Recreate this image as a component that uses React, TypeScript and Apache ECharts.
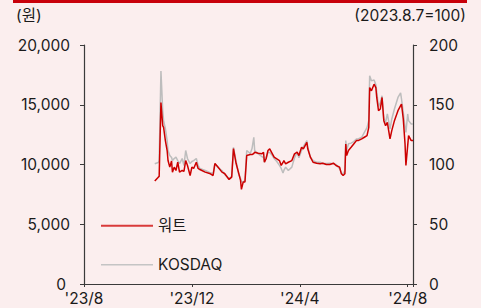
import React, { useEffect, useRef } from "react";
import * as echarts from "echarts";

const dates = [
  "2023-10-20","2023-10-24","2023-10-25","2023-10-27","2023-10-29","2023-10-30","2023-11-01","2023-11-03","2023-11-04","2023-11-06",
  "2023-11-08","2023-11-09","2023-11-11","2023-11-13","2023-11-15","2023-11-17","2023-11-20","2023-11-22","2023-11-24","2023-11-26",
  "2023-11-29","2023-12-01","2023-12-03","2023-12-06","2023-12-08","2023-12-10","2023-12-16","2023-12-21","2023-12-25","2023-12-27",
  "2023-12-30","2024-01-04","2024-01-07","2024-01-12","2024-01-15","2024-01-17","2024-01-20","2024-01-23","2024-01-25","2024-01-26",
  "2024-01-28","2024-01-30","2024-02-01","2024-02-05","2024-02-07","2024-02-09","2024-02-10","2024-02-14","2024-02-18","2024-02-20",
  "2024-02-21","2024-02-23","2024-02-25","2024-02-27","2024-03-01","2024-03-03","2024-03-06","2024-03-09","2024-03-11","2024-03-13",
  "2024-03-14","2024-03-16","2024-03-19","2024-03-23","2024-03-26","2024-03-29","2024-03-31","2024-04-03","2024-04-05","2024-04-09",
  "2024-04-10","2024-04-13","2024-04-16","2024-04-20","2024-04-24","2024-04-27","2024-05-01","2024-05-05","2024-05-09","2024-05-12",
  "2024-05-16","2024-05-18","2024-05-20","2024-05-22","2024-05-23","2024-05-24","2024-05-26","2024-05-29","2024-06-01","2024-06-04",
  "2024-06-06","2024-06-10","2024-06-13","2024-06-16","2024-06-18","2024-06-19","2024-06-21","2024-06-24","2024-06-26","2024-06-27",
  "2024-06-29","2024-07-01","2024-07-03","2024-07-05","2024-07-07","2024-07-09","2024-07-12","2024-07-14","2024-07-17","2024-07-21",
  "2024-07-24","2024-07-25","2024-07-27","2024-07-29","2024-07-30","2024-08-01","2024-08-02","2024-08-05","2024-08-07",
];

const wurtPrice = [
  8610, 8940, 9000, 15190, 13250, 13110, 12000, 11170, 10330, 9780,
  10290, 9360, 9780, 9500, 10190, 9360, 9500, 9420, 10330, 9920,
  9080, 9780, 9670, 10190, 9670, 9580, 9360, 9250, 9080, 10080,
  9830, 9360, 9250, 8750, 8940, 11330, 10080, 9250, 8670, 7920,
  8530, 8530, 10750, 10830, 10830, 10920, 11030, 10940, 10890, 11030,
  10190, 10500, 11170, 11310, 10890, 10610, 10470, 10330, 9920, 10170,
  10330, 10060, 10190, 10330, 10890, 11030, 10750, 11440, 11310, 11860,
  11310, 10610, 10190, 10110, 10060, 10110, 10000, 10000, 10110, 9920,
  9780, 9220, 9080, 9220, 11720, 10750, 11170, 11440, 11720, 12000,
  12000, 12140, 12280, 12420, 13110, 16440, 16170, 16720, 16440, 15610,
  14500, 14640, 15610, 13670, 13250, 13530, 12140, 12830, 13670, 14500,
  14920, 15060, 13810, 11720, 9920, 11580, 12420, 12000, 12000,
];

const kosdaqIndex = [
  100.6, 101.7, 103.3, 178.3, 145, 136.7, 130, 120, 111.7, 107.5,
  105.8, 103.3, 105, 106.1, 103.3, 100.8, 105, 99.2, 111.7, 105,
  100.8, 102.5, 103.3, 105, 99.2, 96.7, 95, 93.3, 92.5, 100.8,
  97.8, 95, 91.7, 88.3, 90, 114.4, 102.5, 91.7, 88.3, 85.8,
  85.3, 86.7, 111.7, 109.2, 113.3, 122.8, 111.7, 108.9, 106.7, 105.8,
  101.9, 105.8, 110.3, 110, 107.5, 105, 102.5, 99.2, 96.7, 92.8,
  95, 97.8, 95, 97.8, 105.6, 110.3, 105.6, 111.7, 115, 120,
  114.4, 106.1, 103.3, 101.9, 101.9, 100.8, 100.8, 101.1, 100.6, 100,
  96.4, 93.3, 91.7, 95, 120, 111.7, 117.3, 117.9, 119.2, 121.4,
  121.4, 122.8, 126.9, 130.8, 136.7, 174.2, 170, 170.8, 166.7, 160.8,
  148.3, 151.9, 157.5, 138.1, 135.3, 142.3, 129.8, 138.1, 146.4, 156.1,
  160, 154.8, 143.6, 131.1, 126.9, 142.3, 136.7, 133.9, 133.9,
];

const xStartDate = "2023-08-01";
const xEndDate = "2024-08-07";
const xTickDates = ["2023-08-01", "2023-12-01", "2024-04-01", "2024-08-01"];
const xTickLabels = ["'23/8", "'23/12", "'24/4", "'24/8"];
const leftTicks = [0, 5000, 10000, 15000, 20000];
const rightTicks = [0, 50, 100, 150, 200];
const seriesNames = ["워트", "KOSDAQ"];
const leftUnit = "(원)";
const rightUnit = "(2023.8.7=100)";

const DAY = 86400000;
const dayOf = (d: string) => Math.round((Date.parse(d) - Date.parse(xStartDate)) / DAY);

const FONT = "Inter, 'Noto Sans CJK KR', sans-serif";
const TEXT = "#1a1a1a";
const AXIS = "#3a3a3a";
const RED = "#CC0000";
const GRAY = "#BDBDBD";

export default function App() {
  const ref = useRef<HTMLDivElement>(null);
  useEffect(() => {
    document.body.style.margin = "0";
    if (!ref.current) return;
    const chart = echarts.init(ref.current, null, { renderer: "svg" });
    const tickDays = xTickDates.map(dayOf);
    const labelMap: Record<number, string> = {};
    tickDays.forEach((d, i) => (labelMap[d] = xTickLabels[i]));
    const wurtData = dates.map((d, i) => [dayOf(d), wurtPrice[i]]);
    const kosdaqData = dates.map((d, i) => [dayOf(d), kosdaqIndex[i]]);

    const legendText = { fontSize: 15.5, color: TEXT, fontFamily: FONT };

    chart.setOption({
      animation: false,
      backgroundColor: "#FBEEEE",
      textStyle: { fontFamily: FONT },
      grid: { left: 84, right: 68, top: 45, bottom: 24 },
      graphic: [
        { type: "rect", left: 13, top: 0, shape: { width: 454, height: 3 }, style: { fill: "#C8000A" } },
        { type: "text", left: 16, top: 8, style: { text: leftUnit, font: `15.5px ${FONT}`, fill: TEXT } },
        { type: "text", right: 15, top: 8, style: { text: rightUnit, font: `15.5px ${FONT}`, fill: TEXT } },
      ],
      legend: [
        {
          data: [{ name: seriesNames[0], icon: "rect", itemStyle: { color: "#D93A3A" } }],
          left: 101, top: 218, padding: 0, itemWidth: 52, itemHeight: 2, itemGap: 6,
          textStyle: legendText,
        },
        {
          data: [{ name: seriesNames[1], icon: "rect", itemStyle: { color: "#C4C4C4" } }],
          left: 101, top: 257, padding: 0, itemWidth: 52, itemHeight: 1.5, itemGap: 6,
          textStyle: legendText,
        },
      ],
      xAxis: {
        type: "value",
        min: 0,
        max: dayOf(xEndDate),
        interval: tickDays[1] - tickDays[0],
        splitLine: { show: false },
        axisLine: { show: true, lineStyle: { color: AXIS, width: 1.2 } },
        axisTick: { show: true, length: 3, lineStyle: { color: AXIS } },
        axisLabel: {
          margin: 7,
          fontSize: 15.5,
          lineHeight: 14,
          color: TEXT,
          fontFamily: FONT,
          formatter: (v: number) => labelMap[v] ?? "",
        },
      },
      yAxis: [
        {
          type: "value",
          min: leftTicks[0],
          max: leftTicks[leftTicks.length - 1],
          interval: leftTicks[1] - leftTicks[0],
          splitLine: { show: false },
          axisLine: { show: true, lineStyle: { color: AXIS, width: 1.2 } },
          axisTick: { show: true, length: 4, lineStyle: { color: AXIS } },
          axisLabel: {
            margin: 14,
            fontSize: 15.5,
            lineHeight: 14,
            color: TEXT,
            fontFamily: FONT,
            formatter: (v: number) => (v === 0 ? "{z|0}" : v.toLocaleString("en-US")),
            rich: {
              z: { fontSize: 15.5, lineHeight: 14, color: TEXT, fontFamily: FONT, padding: [0, 4, 0, 0] },
            },
          },
        },
        {
          type: "value",
          position: "right",
          min: rightTicks[0],
          max: rightTicks[rightTicks.length - 1],
          interval: rightTicks[1] - rightTicks[0],
          splitLine: { show: false },
          axisLine: { show: true, lineStyle: { color: AXIS, width: 1.2 } },
          axisTick: { show: true, length: 4, lineStyle: { color: AXIS } },
          axisLabel: { margin: 16, fontSize: 15.5, lineHeight: 14, color: TEXT, fontFamily: FONT },
        },
      ],
      series: [
        {
          name: seriesNames[1],
          type: "line",
          yAxisIndex: 1,
          data: kosdaqData,
          symbol: "none",
          lineStyle: { color: GRAY, width: 1.5 },
          itemStyle: { color: GRAY },
        },
        {
          name: seriesNames[0],
          type: "line",
          yAxisIndex: 0,
          data: wurtData,
          symbol: "none",
          lineStyle: { color: RED, width: 1.5 },
          itemStyle: { color: RED },
        },
      ],
    });
    return () => chart.dispose();
  }, []);
  return <div ref={ref} style={{ width: 481, height: 308 }} />;
}
